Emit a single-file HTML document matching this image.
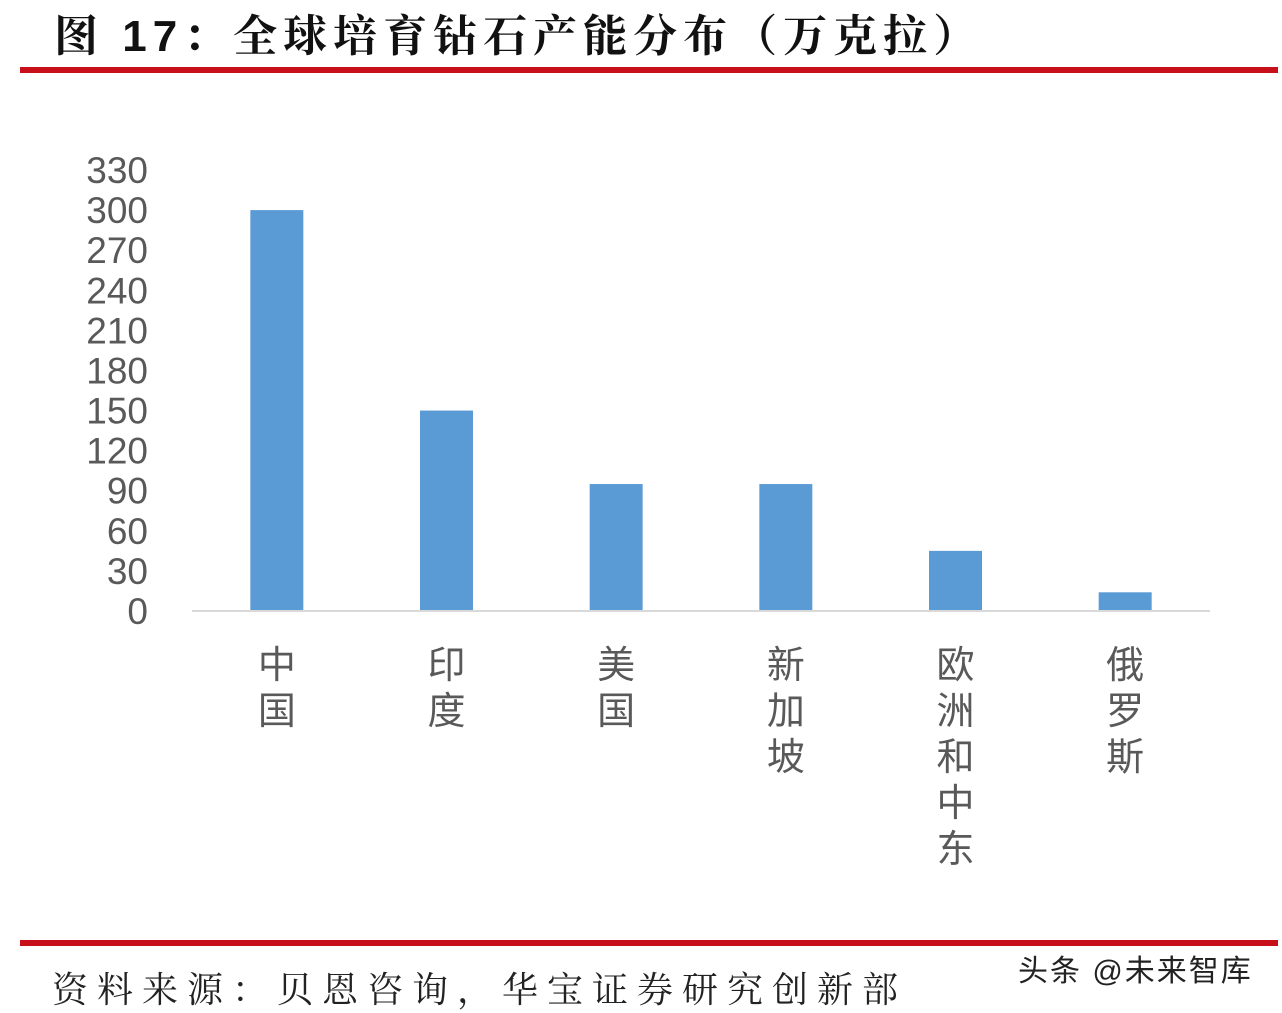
<!DOCTYPE html>
<html><head><meta charset="utf-8">
<style>
html,body{margin:0;padding:0;background:#fff;}
body{width:1282px;height:1010px;position:relative;overflow:hidden;}
.t{position:absolute;white-space:nowrap;}
</style></head>
<body>
<div class="t" style="left:54px;top:0px;font:bold 44px 'Liberation Sans','Noto Serif CJK SC','Noto Sans CJK SC',serif;color:#111;letter-spacing:6px;">图 17：全球培育钻石产能分布（万克拉）</div>
<div style="position:absolute;left:20px;top:67px;width:1258px;height:6px;background:#c8101a;"></div>
<div style="position:absolute;left:20px;top:940px;width:1258px;height:6px;background:#c8101a;"></div>
<div class="t" style="left:52px;top:962px;font:36px 'Liberation Serif','Noto Serif CJK SC',serif;color:#222;letter-spacing:9px;">资料来源：贝恩咨询，华宝证券研究创新部</div>
<div class="t" style="left:1018px;top:946px;font:30px 'Liberation Sans','Noto Sans CJK SC',sans-serif;color:#222;letter-spacing:2px;">头条 @未来智库</div>
<svg id="chart" width="1282" height="1010" style="position:absolute;left:0;top:0;"></svg>
<script>
const categories=["中国","印度","美国","新加坡","欧洲和中东","俄罗斯"];
const values=[300,150,95,95,45,14];
const ticks=[0,30,60,90,120,150,180,210,240,270,300,330];
const NS="http://www.w3.org/2000/svg";
const svg=document.getElementById('chart');
const x0=192,x1=1210,yBase=611,yTop=170,vMax=330;
function y(v){return yBase-(v/vMax)*(yBase-yTop);}
function xc(i){return x0+(i+0.5)*(x1-x0)/categories.length;}
function mk(t,a){const e=document.createElementNS(NS,t);for(const k in a)e.setAttribute(k,a[k]);svg.appendChild(e);return e;}
ticks.forEach(v=>{
  const t=mk('text',{x:148,y:y(v)+13,'text-anchor':'end','font-size':37,fill:'#595959','font-family':'Liberation Sans, sans-serif'});
  
  
  t.textContent=v;
});
const bw=53;
values.forEach((v,i)=>{
  const r=mk('rect',{x:xc(i)-bw/2,y:y(v),width:bw,height:yBase-y(v),fill:'#5b9bd5'});
  
  
});
const ax=mk('line',{x1:x0,y1:yBase,x2:x1,y2:yBase,stroke:'#d9d9d9','stroke-width':2});


categories.forEach((c,i)=>{
  [...c].forEach((ch,j)=>{
    const t=mk('text',{x:xc(i),y:678+j*46,'text-anchor':'middle','font-size':38,fill:'#595959','font-family':'Noto Sans CJK SC, sans-serif'});
    
    
    t.textContent=ch;
  });
});
</script>
</body></html>
